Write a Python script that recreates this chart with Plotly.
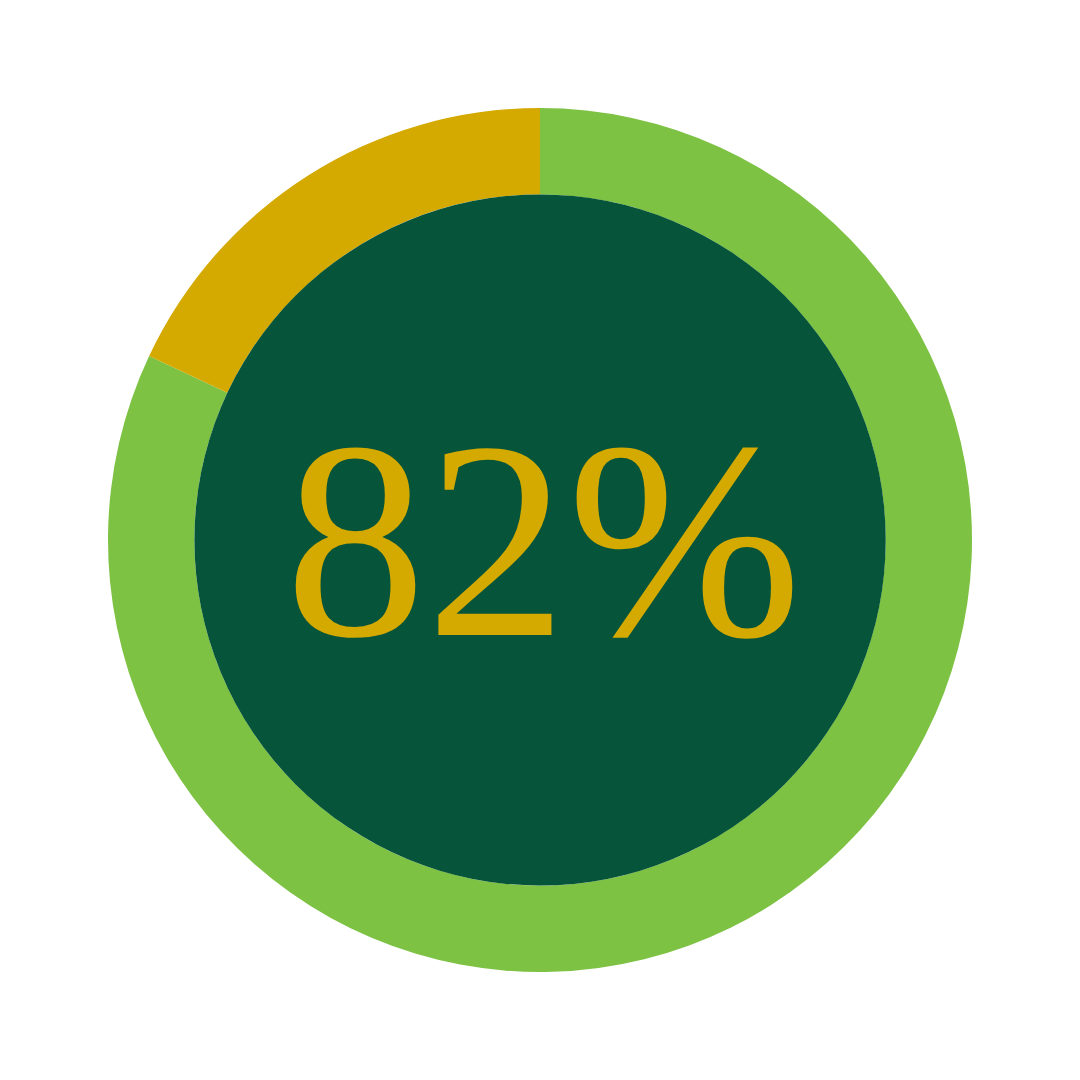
import plotly.graph_objects as go

labels = ['Achieved', 'Remaining']
values = [82, 18]
colors = ['#7DC243', '#D4A900']
center_label = '82%'

# page body adds an 8px margin, so nudge everything up/left
off = 8 / 1080

fig = go.Figure()

# outer ring
fig.add_trace(go.Pie(
    labels=labels, values=values, hole=0.8, sort=False,
    direction='clockwise', rotation=0,
    marker=dict(colors=colors, line=dict(width=0)),
    textinfo='none', hoverinfo='label+percent', showlegend=False,
    domain=dict(x=[0.1 - off, 0.9 - off], y=[0.1 + off, 0.9 + off]),
))

# dark disc filling the hole
fig.add_trace(go.Pie(
    labels=['centre'], values=[1],
    marker=dict(colors=['#06543A'], line=dict(width=0)),
    textinfo='none', hoverinfo='skip', showlegend=False,
    domain=dict(x=[0.18 - off, 0.82 - off], y=[0.18 + off, 0.82 + off]),
))

fig.add_annotation(
    text=center_label, x=0.496, y=0.507, xref='paper', yref='paper',
    showarrow=False, xanchor='center', yanchor='middle',
    font=dict(family="'Liberation Serif', 'DejaVu Serif', serif",
              size=282, color='#D4A900'),
)

fig.update_layout(
    width=1080, height=1080,
    margin=dict(l=0, r=0, t=0, b=0),
    paper_bgcolor='white', plot_bgcolor='white',
)

fig.write_html("out.html")
